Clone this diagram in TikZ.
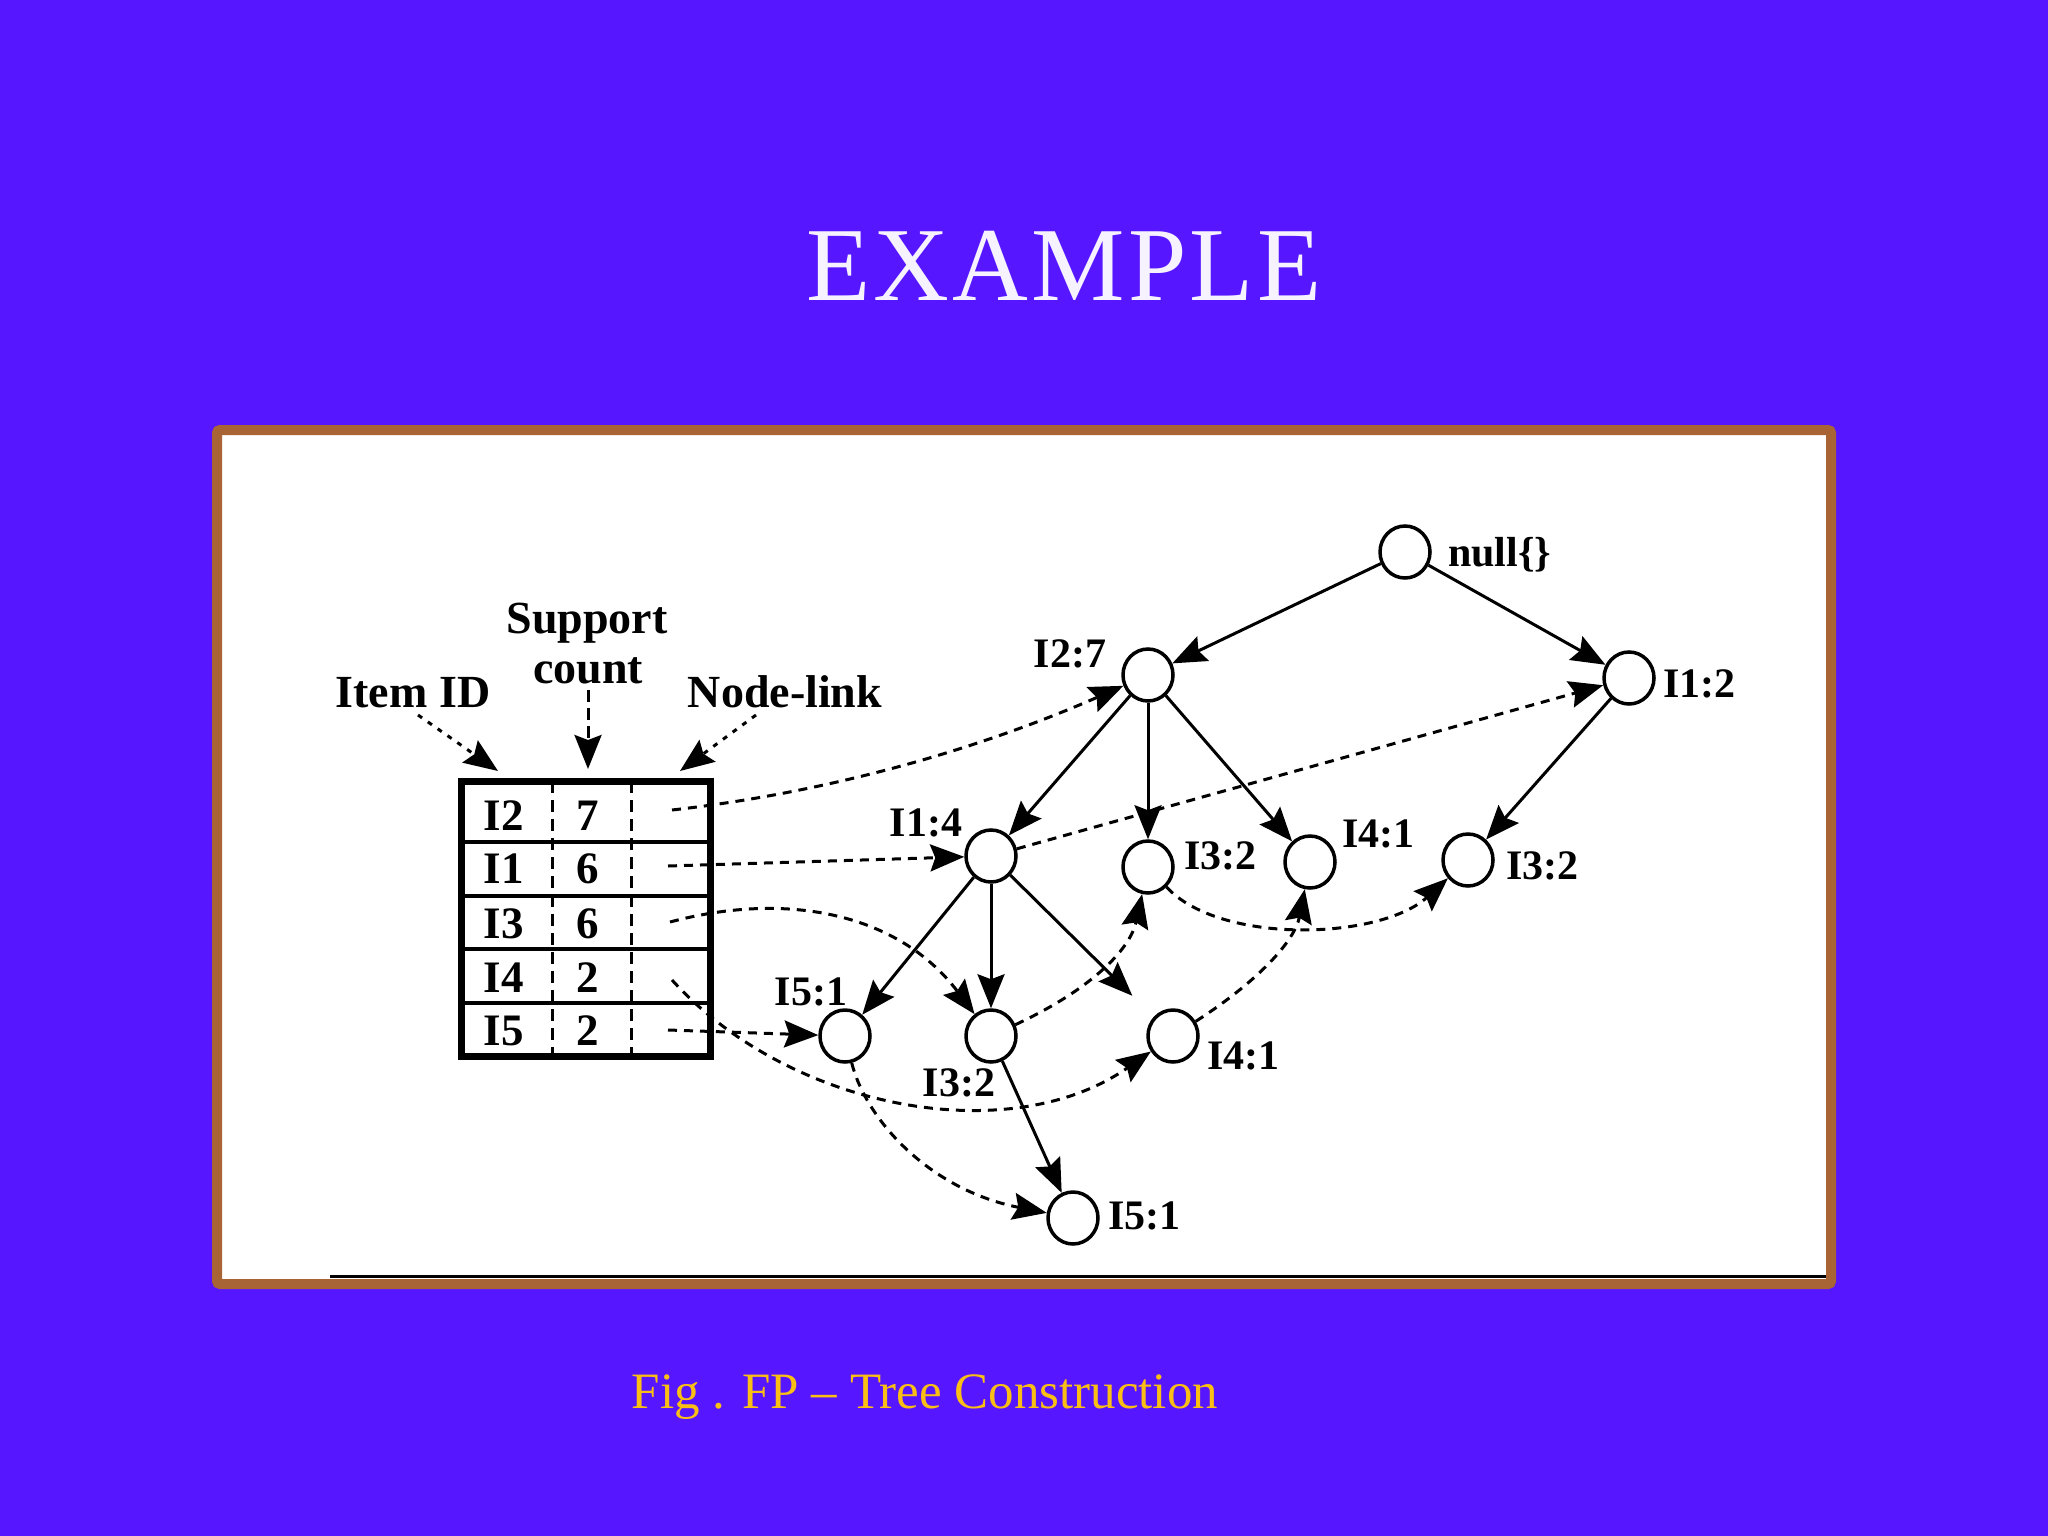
\documentclass[tikz,border=0pt]{standalone}
\usepackage{fontspec}
\setmainfont{Liberation Serif}
\usetikzlibrary{arrows.meta,shapes.geometric}
\definecolor{bgblue}{RGB}{86,22,255}
\definecolor{framebrown}{RGB}{168,100,52}
\definecolor{capgold}{RGB}{250,190,20}
\definecolor{titlewhite}{RGB}{246,242,255}
\begin{document}
\begin{tikzpicture}[x=1pt,y=-1pt,
  tnode/.style={ellipse,draw=black,line width=3.5pt,fill=white,minimum width=50pt,minimum height=52pt,inner sep=0pt},
  lab/.style={font=\fontsize{42}{46}\selectfont\bfseries,inner sep=0pt},
  hlab/.style={font=\fontsize{46}{50}\selectfont\bfseries,inner sep=0pt},
  tlab/.style={font=\fontsize{45}{48}\selectfont\bfseries,inner sep=0pt,anchor=base},
  tip/.style={-{Stealth[length=34pt,width=27pt,inset=5pt]}},
  tedge/.style={tip,line width=3pt},
  link/.style={tip,line width=3pt,dash pattern=on 9pt off 7pt},
  hdot/.style={tip,line width=3pt,dash pattern=on 5pt off 7pt},
  hdash/.style={tip,line width=3pt,dash pattern=on 12pt off 6pt},
]
% background
\fill[bgblue] (0,0) rectangle (2048,1536);
\useasboundingbox (0,0) rectangle (2048,1536);

% title and caption
\node[text=titlewhite,font=\fontsize{105}{110}\selectfont\addfontfeatures{LetterSpace=3},inner sep=0pt,anchor=base] (title) at (1064,300) {EXAMPLE};
\node[text=capgold,font=\fontsize{51}{55}\selectfont,inner sep=0pt,anchor=base] (caption) at (925,1408) {Fig . FP – Tree Construction};

% frame
\draw[framebrown,line width=10pt,fill=white,rounded corners=3pt] (217,430) rectangle (1831,1284);
\draw[black,line width=3pt] (330,1276.5) -- (1826,1276.5);

% header table
\draw[line width=4pt] (458,842) -- (714,842) (458,896) -- (714,896) (458,949) -- (714,949) (458,1003) -- (714,1003);
\draw[line width=3pt,dash pattern=on 12pt off 7pt] (552,781) -- (552,1057) (631,781) -- (631,1057);
\draw[line width=7pt] (461.5,781.5) rectangle (710.5,1056.5);

\node[tlab] (t1a) at (504,830) {I2};
\node[tlab] (t1b) at (588,830) {7};
\node[tlab] (t2a) at (504,883) {I1};
\node[tlab] (t2b) at (588,883) {6};
\node[tlab] (t3a) at (504,938) {I3};
\node[tlab] (t3b) at (588,938) {6};
\node[tlab] (t4a) at (504,992) {I4};
\node[tlab] (t4b) at (588,992) {2};
\node[tlab] (t5a) at (504,1045) {I5};
\node[tlab] (t5b) at (588,1045) {2};

% header labels
\node[hlab,anchor=base] (itemid) at (413,707) {Item ID};
\node[hlab,anchor=base] (support) at (587,633) {Support};
\node[hlab,anchor=base] (count) at (588,683) {count};
\node[hlab,anchor=base] (nodelink) at (785,707) {Node-link};
\coordinate (a1s) at (418,715);
\coordinate (a1e) at (498,771);
\coordinate (a2s) at (588,690);
\coordinate (a2e) at (588,769);
\coordinate (a3s) at (756,715);
\coordinate (a3e) at (680,771);
\draw[hdot] (a1s) -- (a1e);
\draw[hdash] (a2s) -- (a2e);
\draw[hdot] (a3s) -- (a3e);

% tree nodes
\node[tnode] (null) at (1405,552) {};
\node[tnode] (i27) at (1148,675) {};
\node[tnode] (i12) at (1629,678) {};
\node[tnode] (i14) at (991,856) {};
\node[tnode] (i32u) at (1148,867) {};
\node[tnode] (i41u) at (1310,862) {};
\node[tnode] (i32r) at (1468,860) {};
\node[tnode] (i51l) at (845,1036) {};
\node[tnode] (i32m) at (991,1036) {};
\node[tnode] (i41l) at (1173,1036) {};
\node[tnode] (i51b) at (1073,1218) {};

% tree labels
\node[lab,anchor=base west] (lnull) at (1448,566) {null\{\}};
\node[lab,anchor=base] (l27) at (1070,667) {I2:7};
\node[lab,anchor=base west] (l12) at (1663,697) {I1:2};
\node[lab,anchor=base] (l14) at (926,836) {I1:4};
\node[lab,anchor=base west] (l32u) at (1184,869) {I3:2};
\node[lab,anchor=base west] (l41u) at (1342,847) {I4:1};
\node[lab,anchor=base west] (l32r) at (1506,879) {I3:2};
\node[lab,anchor=base] (l51l) at (811,1005) {I5:1};
\node[lab,anchor=base] (l32m) at (959,1096) {I3:2};
\node[lab,anchor=base west] (l41l) at (1207,1069) {I4:1};
\node[lab,anchor=base west] (l51b) at (1108,1229) {I5:1};

% tree edges
\draw[tedge] (null) -- (i27);
\draw[tedge] (null) -- (i12);
\draw[tedge] (i27) -- (i14);
\draw[tedge] (i27) -- (i32u);
\draw[tedge] (i27) -- (i41u);
\draw[tedge] (i12) -- (i32r);
\draw[tedge] (i14) -- (i51l);
\draw[tedge] (i14) -- (i32m);
\draw[tedge,shorten >=30pt] (i14) -- (i41l);
\draw[tedge] (i32m) -- (i51b);

% node-links
\coordinate (l2) at (672,810);
\coordinate (l1) at (668,866);
\coordinate (l3) at (670,922);
\coordinate (l4) at (672,980);
\coordinate (l5) at (668,1030);

\draw[link] (l2) .. controls (850,790) and (1000,740) .. (i27);
\draw[link] (l1) -- (i14);
\draw[link] (i14) -- (i12);
\draw[link] (l3) .. controls (790,890) and (900,915) .. (i32m);
\draw[link] (i32m) .. controls (1090,990) and (1130,950) .. (i32u);
\draw[link] (i32u) .. controls (1220,945) and (1380,940) .. (i32r);
\draw[link] (l4) .. controls (790,1110) and (1010,1150) .. (i41l);
\draw[link] (i41l) .. controls (1260,980) and (1295,940) .. (i41u);
\draw[link] (l5) -- (i51l);
\draw[link] (i51l) .. controls (866,1120) and (930,1190) .. (i51b);
\end{tikzpicture}
\end{document}
